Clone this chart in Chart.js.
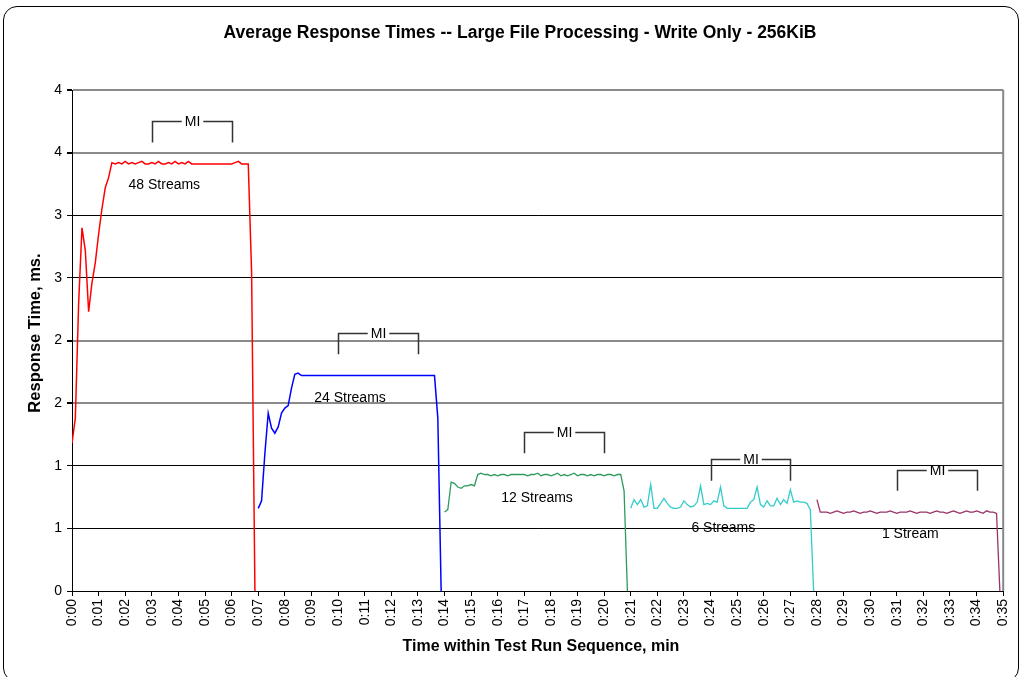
<!DOCTYPE html>
<html><head><meta charset="utf-8">
<script src="https://cdn.jsdelivr.net/npm/chart.js@4/dist/chart.umd.min.js"></script>
<style>
html,body{margin:0;padding:0;background:#fff;}
#wrap{position:relative;width:1023px;height:677px;overflow:hidden;background:#fff;}
#frame{position:absolute;left:3px;top:6px;width:1016px;height:676px;border:1px solid #000;border-radius:14px;box-sizing:border-box;}
canvas{position:absolute;left:0;top:0;}
</style></head><body>
<div id="wrap"><div id="frame"></div><canvas id="c" width="1023" height="677"></canvas></div>
<script>
// ---- data ----
const xTickLabels = ['0:00','0:01','0:02','0:03','0:04','0:05','0:06','0:07','0:08','0:09','0:10','0:11','0:12','0:13','0:14','0:15','0:16','0:17','0:18','0:19','0:20','0:21','0:22','0:23','0:24','0:25','0:26','0:27','0:28','0:29','0:30','0:31','0:32','0:33','0:34','0:35'];
const xTickValues = [0,1,2,3,4,5,6,7,8,9,10,11,12,13,14,15,16,17,18,19,20,21,22,23,24,25,26,27,28,29,30,31,32,33,34,35];
const yTickValues = [0,0.5,1,1.5,2,2.5,3,3.5,4];
const yTickLabels = ['0','1','1','2','2','3','3','4','4'];

const seriesNames = ['48 Streams','24 Streams','12 Streams','6 Streams','1 Stream'];
const seriesStartMin = [0,7,14,21,28];
const sampleStepMin = 0.125;

const streams48 = [1.18,1.38,2.30,2.90,2.72,2.23,2.46,2.62,2.85,3.05,3.22,3.30,3.42,
  3.41,3.42,3.41,3.43,3.41,3.42,3.41,3.42,3.43,3.41,3.41,3.42,3.41,3.43,3.41,3.41,3.42,3.41,3.43,3.41,3.42,3.41,3.43,3.41,
  3.41,3.41,3.41,3.41,3.41,3.41,3.41,3.41,3.41,3.41,3.41,3.41,
  3.42,3.43,3.41,3.41,3.41,
  2.55,0];
const streams24 = [0.66,0.72,1.10,1.42,1.30,1.26,1.31,1.42,1.46,1.48,1.62,1.73,1.74,
  1.72,1.72,1.72,1.72,1.72,1.72,1.72,1.72,1.72,1.72,1.72,1.72,1.72,1.72,1.72,1.72,1.72,1.72,1.72,1.72,
  1.72,1.72,1.72,1.72,1.72,1.72,1.72,1.72,1.72,1.72,1.72,1.72,1.72,1.72,1.72,1.72,1.72,1.72,1.72,1.72,1.72,
  1.38,0];
const streams12 = [0.63,0.65,0.87,0.86,0.83,0.82,0.84,0.84,0.85,0.84,0.93,0.94,
  0.93,0.93,0.92,0.93,0.92,0.93,0.93,0.92,0.93,0.93,0.93,0.93,0.93,0.92,0.93,0.93,0.94,0.92,0.93,0.93,
  0.92,0.93,0.94,0.92,0.93,0.92,0.93,0.94,0.92,0.93,0.93,0.92,0.93,0.92,0.93,0.93,0.92,0.93,0.93,0.92,
  0.93,0.93,
  0.80,0];
const streams6 = [0.66,0.73,0.69,0.73,0.67,0.68,0.85,0.66,0.66,0.70,
  0.74,0.70,0.67,0.66,0.66,0.67,0.72,0.69,0.67,0.68,
  0.71,0.84,0.69,0.70,0.69,0.72,0.71,0.83,0.68,0.66,
  0.66,0.66,0.66,0.66,0.66,0.66,0.71,0.73,0.83,0.69,
  0.67,0.72,0.68,0.68,0.74,0.69,0.73,0.70,0.81,0.71,
  0.72,0.71,0.71,0.70,0.65,0];
const streams1 = [0.73,0.63,
  0.63,0.63,0.62,0.63,0.64,0.63,0.62,0.63,0.63,0.64,0.63,0.62,0.63,0.63,0.64,0.63,0.62,0.63,0.63,0.63,
  0.64,0.63,0.62,0.63,0.63,0.63,0.64,0.63,0.62,0.63,0.63,0.63,0.62,0.63,0.64,0.63,0.63,0.62,0.63,0.64,
  0.63,0.62,0.63,0.64,0.63,0.63,0.64,0.63,0.62,0.64,0.63,0.63,
  0.62,0];
const seriesValues = [streams48, streams24, streams12, streams6, streams1];

// measurement-interval brackets and series labels (data units)
const miStartMin = [3,10,17,24,31];
const miEndMin = [6,13,20,27,34];
const miLevel = [3.75,2.06,1.27,1.05,0.97];
const miLeg = 0.17;
const labelXMin = [3.47,10.45,17.48,24.48,31.51];
const labelYVal = [3.24,1.54,0.74,0.50,0.45];

const chartTitle = 'Average Response Times -- Large File Processing - Write Only - 256KiB';
const xTitle = 'Time within Test Run Sequence, min';
const yTitle = 'Response Time, ms.';

// ---- styles ----
const FONT = '"Liberation Sans", Arial, Helvetica, sans-serif';
const seriesColors = ['#FF0000','#0000FF','#2E9A5E','#33CCCC','#993366'];
const seriesWidths = [1.5,1.5,1.3,1.3,1.3];

const datasets = seriesValues.map((vals, s) => ({
  label: seriesNames[s],
  data: vals.map((v, i) => ({ x: seriesStartMin[s] + i * sampleStepMin, y: v })),
  borderColor: seriesColors[s],
  borderWidth: seriesWidths[s],
  pointRadius: 0,
  tension: 0,
  fill: false
}));

const greyIdx = [3,4,7,8];

const annot = {
  id: 'annot',
  afterDatasetsDraw(chart) {
    const { ctx, chartArea: ca, scales: { x, y } } = chart;
    ctx.save();
    // right plot border
    ctx.strokeStyle = '#888'; ctx.lineWidth = 2;
    ctx.beginPath(); ctx.moveTo(ca.right, ca.top); ctx.lineTo(ca.right, ca.bottom); ctx.stroke();
    // MI brackets
    ctx.font = '14px ' + FONT;
    ctx.textAlign = 'center'; ctx.textBaseline = 'middle';
    for (let i = 0; i < miStartMin.length; i++) {
      const x1 = Math.round(x.getPixelForValue(miStartMin[i])) + 0.5;
      const x2 = Math.round(x.getPixelForValue(miEndMin[i])) + 0.5;
      const yt = Math.round(y.getPixelForValue(miLevel[i])) + 0.5;
      const yb = y.getPixelForValue(miLevel[i] - miLeg);
      const tw = ctx.measureText('MI').width;
      const cx = (x1 + x2) / 2;
      ctx.strokeStyle = '#333'; ctx.lineWidth = 1.5;
      ctx.beginPath();
      ctx.moveTo(x1, yb); ctx.lineTo(x1, yt); ctx.lineTo(cx - tw / 2 - 3, yt);
      ctx.moveTo(cx + tw / 2 + 3, yt); ctx.lineTo(x2, yt); ctx.lineTo(x2, yb);
      ctx.stroke();
      ctx.fillStyle = '#000';
      ctx.fillText('MI', cx, yt + 1);
    }
    // series labels
    for (let i = 0; i < seriesNames.length; i++) {
      ctx.fillText(seriesNames[i], x.getPixelForValue(labelXMin[i]), y.getPixelForValue(labelYVal[i]));
    }
    ctx.restore();
  },
  afterDraw(chart) {
    const { ctx } = chart;
    ctx.save();
    ctx.fillStyle = '#000';
    ctx.textAlign = 'center'; ctx.textBaseline = 'middle';
    ctx.font = 'bold 17.5px ' + FONT;
    ctx.fillText(chartTitle, 520, 33);
    ctx.font = 'bold 16px ' + FONT;
    ctx.fillText(xTitle, 541, 647);
    ctx.translate(35, 333);
    ctx.rotate(-Math.PI / 2);
    ctx.font = 'bold 16.5px ' + FONT;
    ctx.fillText(yTitle, 0, 0);
    ctx.restore();
  }
};

new Chart(document.getElementById('c'), {
  type: 'line',
  data: { datasets },
  options: {
    responsive: false,
    animation: false,
    devicePixelRatio: 1,
    layout: { padding: { left: 20, right: 18, top: 90, bottom: 10 } },
    plugins: { legend: { display: false }, tooltip: { enabled: false }, title: { display: false } },
    scales: {
      x: {
        type: 'linear', min: 0, max: 35,
        afterBuildTicks: s => { s.ticks = xTickValues.map(v => ({ value: v })); },
        afterFit: s => { s.height = 76; },
        ticks: {
          autoSkip: false, maxRotation: 90, minRotation: 90, color: '#000', padding: 3,
          font: { family: FONT, size: 14 },
          callback: (v, i) => xTickLabels[i]
        },
        grid: { drawOnChartArea: false, drawTicks: true, tickLength: 5, tickColor: '#000', color: '#000' },
        border: { color: '#000', width: 1 }
      },
      y: {
        min: 0, max: 4,
        afterBuildTicks: s => { s.ticks = yTickValues.map(v => ({ value: v })); },
        afterFit: s => { s.width = 52; },
        ticks: {
          color: '#000', padding: 5,
          font: { family: FONT, size: 14 },
          callback: (v, i) => yTickLabels[i]
        },
        grid: {
          color: c => greyIdx.includes(c.index) ? '#8a8a8a' : '#000',
          lineWidth: c => greyIdx.includes(c.index) ? 2 : 1,
          tickColor: '#000', tickLength: 5
        },
        border: { color: '#000', width: 1 }
      }
    }
  },
  plugins: [annot]
});
</script></body></html>
